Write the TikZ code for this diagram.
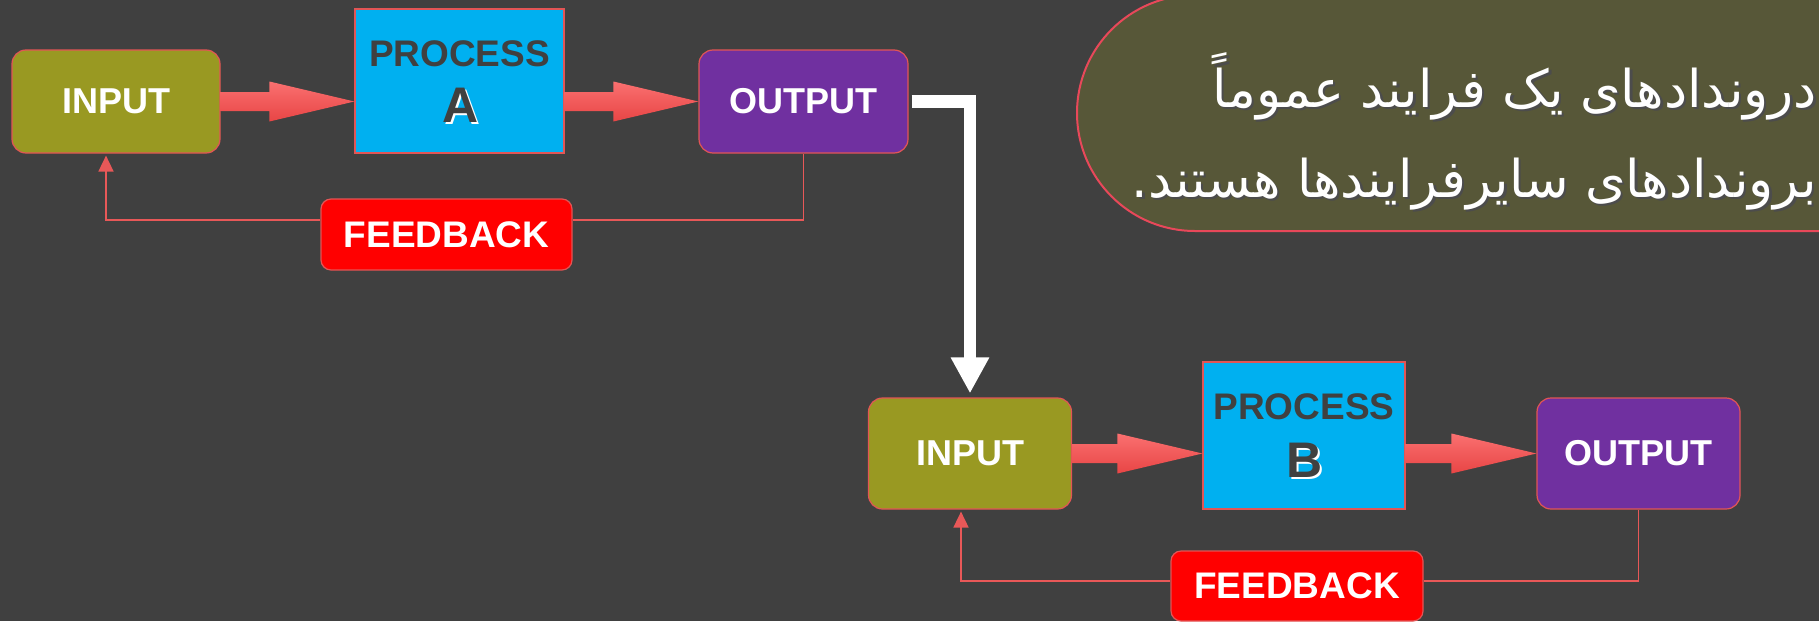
\documentclass[tikz,border=0pt]{standalone}
\usepackage{fontspec}
\setmainfont{Liberation Sans}
\newfontfamily\arabicfont[Script=Arabic]{DejaVu Sans}
\TeXXeTstate=1
\usetikzlibrary{arrows.meta,calc}
\definecolor{bg}{HTML}{404040}
\definecolor{inclr}{HTML}{999922}
\definecolor{procclr}{HTML}{00B0F0}
\definecolor{outclr}{HTML}{7030A0}
\definecolor{fbclr}{HTML}{FF0000}
\definecolor{edgeclr}{HTML}{E25555}
\definecolor{arrtop}{HTML}{FA7070}
\definecolor{arrbot}{HTML}{E84545}
\definecolor{pboxclr}{HTML}{575738}
\definecolor{pedgeclr}{HTML}{E8485A}
\definecolor{txtdark}{HTML}{404040}
\definecolor{fblineclr}{HTML}{E85858}
\tikzset{
  box/.style={draw=edgeclr, line width=1.2pt, inner sep=0pt, text=white,
    font=\fontsize{36}{40}\selectfont\bfseries},
  inbox/.style={box, fill=inclr, rounded corners=14pt},
  procbox/.style={box, fill=procclr},
  outbox/.style={box, fill=outclr, rounded corners=14pt},
  fbbox/.style={box, fill=fbclr, rounded corners=10pt, font=\fontsize{37}{40}\selectfont\bfseries},
  proctitle/.style={text=txtdark, font=\fontsize{37}{40}\selectfont\bfseries, inner sep=0pt},
  procletter/.style={text=txtdark, font=\fontsize{50}{54}\selectfont\bfseries, inner sep=0pt},
  procglow/.style={text=white, font=\fontsize{50}{54}\selectfont\bfseries, inner sep=0pt},
  fbline/.style={draw=fblineclr, line width=1.7pt},
  fbarrow/.style={fbline, -{Triangle[width=15pt,length=16pt]}},
  whiteconn/.style={draw=white, line width=12.5pt, -{Triangle[width=36pt,length=36pt]}},
  persian/.style={text=white, inner sep=0pt, anchor=base east, font=\arabicfont\fontsize{52}{60}\selectfont},
  pshadow/.style={text=black!70, inner sep=0pt, anchor=base east, font=\arabicfont\fontsize{52}{60}\selectfont},
}
\newcommand\blockarr[2]{%
  \shade[top color=arrtop, bottom color=arrbot]
    ($(#1)+(0,-9.5)$) -- ($(#2)+(-85,-9.5)$) -- ($(#2)+(-85,-20)$) -- (#2)
    -- ($(#2)+(-85,20)$) -- ($(#2)+(-85,9.5)$) -- ($(#1)+(0,9.5)$) -- cycle;}
\begin{document}
\begin{tikzpicture}[x=1pt,y=-1pt]
\fill[bg] (0,0) rectangle (1819,621);
\useasboundingbox (0,0) rectangle (1819,621);

% Persian statement box
\draw[pedgeclr, fill=pboxclr, line width=2pt, rounded corners=118pt] (1077,-5) rectangle (1960,231);
\node[pshadow] (pl1s) at (1819.5,109.5) {\beginR دروندادهای یک فرایند عموماً\endR};
\node[persian] (pl1) at (1817,107) {\beginR دروندادهای یک فرایند عموماً\endR};
\node[pshadow] (pl2s) at (1819.5,199.5) {\beginR بروندادهای سایرفرایندها هستند.\endR};
\node[persian] (pl2) at (1817,197) {\beginR بروندادهای سایرفرایندها هستند.\endR};

% Process A
\node[inbox, minimum width=208pt, minimum height=103pt] (inA) at (116,101.5) {INPUT};
\node[procbox, minimum width=209pt, minimum height=144pt] (procA) at (459.5,81) {};
\node[proctitle] (procAt) at (459.5,54) {PROCESS};
\node[procglow] (procAg) at (462.5,107.5) {A};
\node[procletter] (procAl) at (460.5,105) {A};
\node[outbox, minimum width=209pt, minimum height=103pt] (outA) at (803.5,101.5) {OUTPUT};
\node[fbbox, minimum width=251pt, minimum height=71pt] (fbA) at (446.5,234.5) {FEEDBACK};
\blockarr{inA.east}{procA.west |- inA.east}
\blockarr{procA.east |- outA.west}{outA.west}
\coordinate (fbAy) at (0,220);
\draw[fbline] (outA.south) -- (outA.south |- fbAy) -- (fbA.east |- fbAy);
\draw[fbarrow] (fbA.west |- fbAy) -| ([xshift=-10pt,yshift=-2pt]inA.south);

% Process B
\node[inbox, minimum width=203pt, minimum height=111pt] (inB) at (970,453.5) {INPUT};
\node[procbox, minimum width=202pt, minimum height=147pt] (procB) at (1304,435.5) {};
\node[proctitle] (procBt) at (1304,407) {PROCESS};
\node[procglow] (procBg) at (1307,462.5) {B};
\node[procletter] (procBl) at (1305,460) {B};
\node[outbox, minimum width=203pt, minimum height=111pt] (outB) at (1638.5,453.5) {OUTPUT};
\node[fbbox, minimum width=252pt, minimum height=70pt] (fbB) at (1297,586) {FEEDBACK};
\blockarr{inB.east}{procB.west |- inB.east}
\blockarr{procB.east |- outB.west}{outB.west}
\coordinate (fbBy) at (0,581);
\draw[fbline] (outB.south) -- (outB.south |- fbBy) -- (fbB.east |- fbBy);
\draw[fbarrow] (fbB.west |- fbBy) -| ([xshift=-9pt,yshift=-2pt]inB.south);

% connector from output A to input B
\draw[whiteconn] ([xshift=3pt]outA.east) -| ([yshift=4pt]inB.north);
\end{tikzpicture}
\end{document}
